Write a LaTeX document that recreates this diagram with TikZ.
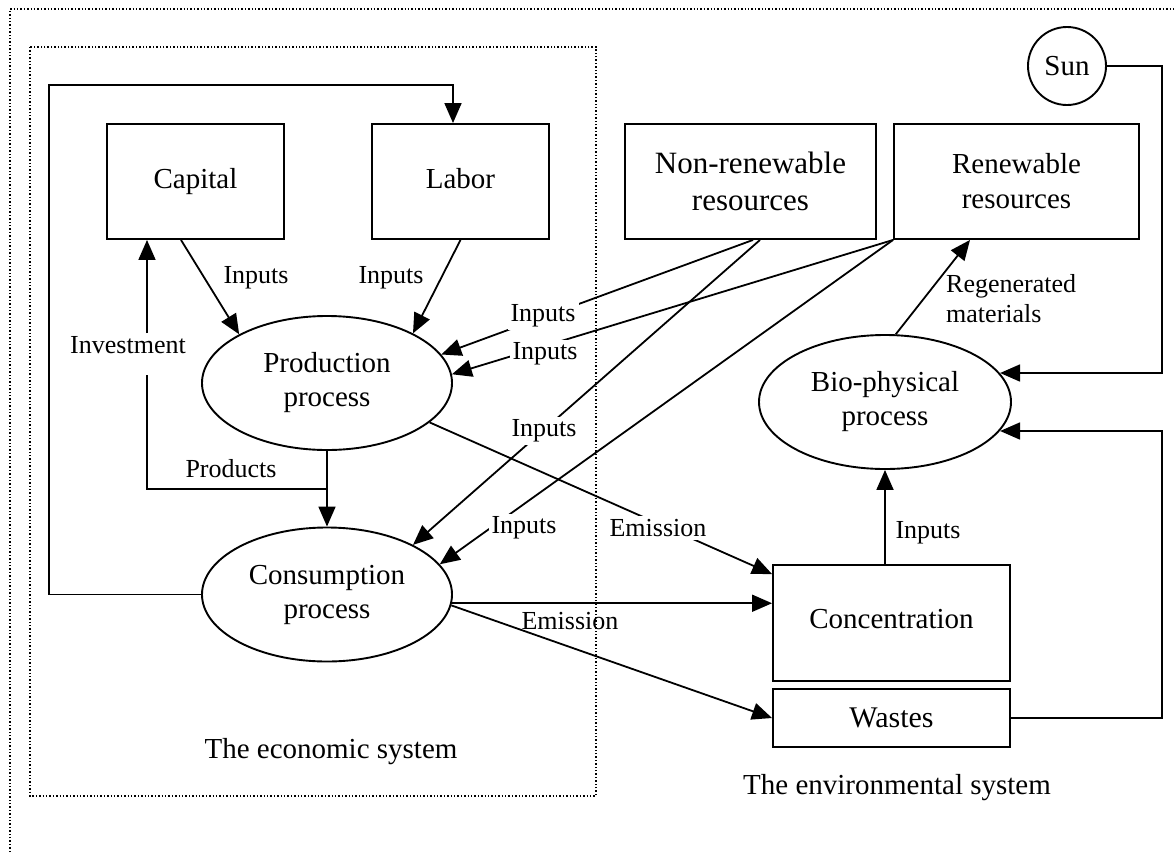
\documentclass[tikz,border=0pt]{standalone}
\usepackage{fontspec}
\setmainfont{Liberation Serif}
\usetikzlibrary{arrows.meta,shapes.geometric}
\begin{document}
\begin{tikzpicture}[x=1pt,y=-1pt,
  nodefont/.style={font=\fontsize{29}{34}\selectfont},
  lblfont/.style={font=\fontsize{26}{30}\selectfont},
  rbox/.style={draw, line width=1.9pt, inner sep=0pt, align=center, nodefont},
  ell/.style={draw, ellipse, line width=1.9pt, inner sep=0pt, minimum width=250pt, minimum height=134pt, align=center, nodefont},
  conn/.style={line width=1.8pt},
  arr/.style={conn, -{Triangle[length=20pt,width=17pt]}},
  lbl/.style={lblfont, inner sep=1pt, align=left},
  gaplbl/.style={lbl, fill=white, inner sep=3pt},
  sysbox/.style={dotted, line width=1.4pt}
]
\useasboundingbox (0,0) rectangle (1176,852);

% system frames
\draw[sysbox] (10,852) -- (10,9) -- (1176,9);
\draw[sysbox] (30,47) rectangle (596,796);

% nodes
\node[rbox, minimum width=177pt, minimum height=115pt] (cap) at (195.5,181.5) {Capital};
\node[rbox, minimum width=177pt, minimum height=115pt] (lab) at (460.5,181.5) {Labor\vphantom{p}};
\node[rbox, minimum width=251pt, minimum height=115pt, font=\fontsize{31}{37}\selectfont] (nr) at (750.5,181.5) {Non-renewable\\resources};
\node[rbox, minimum width=245pt, minimum height=115pt, font=\fontsize{29}{35}\selectfont] (rn) at (1016.5,181.5) {Renewable\\resources};
\node[draw, circle, line width=1.9pt, minimum size=78pt, inner sep=0pt, nodefont] (sun) at (1067,66) {Sun};
\node[ell] (prod) at (327,383) {Production\\process};
\node[ell] (cons) at (327,594.5) {Consumption\\process};
\node[ell, minimum width=252pt] (bio) at (885,402) {Bio-physical\\process};
\node[rbox, minimum width=237pt, minimum height=116pt] (conc) at (891.5,623) {\raisebox{8pt}{Concentration}};
\node[rbox, minimum width=237pt, minimum height=58pt, font=\fontsize{30}{34}\selectfont] (was) at (891.5,718) {Wastes};

\node[nodefont] (econ) at (331,752) {The economic system};
\node[nodefont] (env) at (897,788) {The environmental system};

% loop consumption -> labor
\coordinate (lpA) at (49,85);
\draw[arr] (cons.west) -| (lpA) -| ([xshift=-7.5pt]lab.north);

% capital / labor inputs
\draw[arr] ([xshift=-14.5pt]cap.south) -- (prod.151);
\node[lbl] (in1) at (256,278) {Inputs};
\draw[arr] (lab.south) -- (prod.30);
\node[lbl] (in2) at (391,278) {Inputs};

% products / investment
\coordinate (pj) at (327,489);
\coordinate (ij) at (147,489);
\coordinate (ilo) at (147,375);
\coordinate (ihi) at (147,333);
\draw[conn] (pj) -- (ij) -- (ilo);
\draw[arr] (ihi) -- (ihi |- cap.south);
\node[lbl] (inv) at (128,345) {Investment};
\draw[arr] (prod.south) -- (cons.north);
\node[lbl] (prd) at (231,469) {Products};

% resources -> processes
\draw[arr] ([xshift=2.5pt]nr.south) -- (prod.14.5);
\draw[arr] (rn.south west) -- (prod.4.5);
\draw[arr] ([xshift=9.5pt]nr.south) -- (cons.30);
\draw[arr] (rn.south west) -- (cons.15);
\node[gaplbl] (in3) at (543,316) {Inputs};
\node[gaplbl] (in4) at (545,354) {Inputs};
\node[gaplbl] (in5) at (544,431) {Inputs};
\node[gaplbl] (in6) at (524,528) {Inputs};

% emissions
\draw[arr] (prod.-21.6) -- ([yshift=-10pt]conc.north west);
\node[gaplbl] (em1) at (658,528) {Emission};
\draw[arr] (cons.-4) -- (cons.-4 -| conc.west);
\node[lbl] (em2) at (570,621) {Emission};
\draw[arr] (cons.-5) -- (was.west);

% environment
\draw[arr] (bio.south |- conc.north) -- (bio.south);
\node[lbl] (in7) at (928,533) {Inputs};
\draw[arr] (bio.81) -- ([xshift=-46.5pt]rn.south);
\node[lbl, anchor=west] (reg) at (945,299) {Regenerated\\materials};

\coordinate (sc) at (1162,373);
\draw[arr] (sun.east) -| (sc) -- (sc -| bio.14);
\coordinate (wc) at (1162,431);
\draw[arr] (was.east) -| (wc) -- (wc -| bio.-14);
\end{tikzpicture}
\end{document}
